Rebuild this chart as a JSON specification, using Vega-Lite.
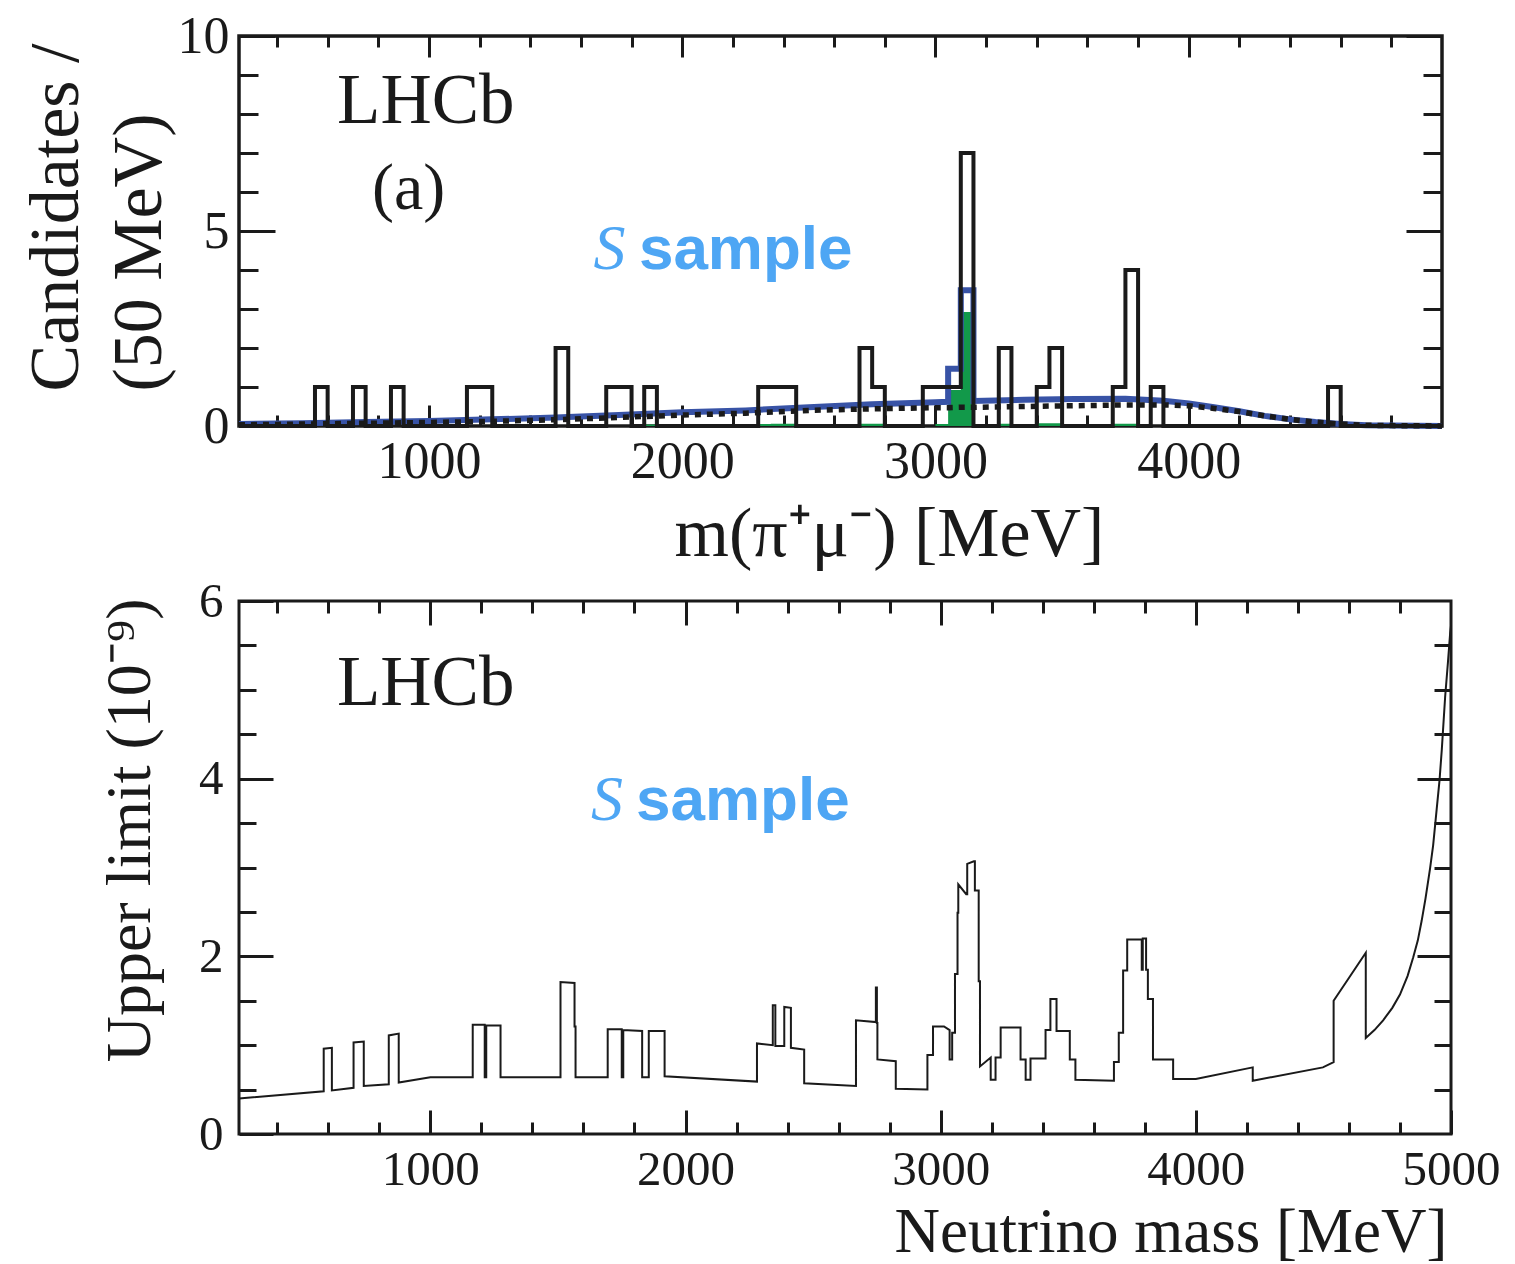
{
  "$schema": "https://vega.github.io/schema/vega-lite/v6.json",
  "background": "white",
  "padding": {"left": 19, "top": 8, "right": 5, "bottom": 2},
  "spacing": 175,
  "bounds": "flush",
  "config": {
    "font": "Liberation Serif",
    "axis": {"grid": false, "domain": false, "labelFlush": false, "labelOverlap": false, "format": "d", "tickColor": "#1a1a1a", "labelColor": "#1a1a1a", "titleColor": "#1a1a1a", "labelFont": "Liberation Serif", "titleFont": "Liberation Serif", "titleFontWeight": "normal", "tickWidth": 3},
    "view": {"stroke": "#1a1a1a", "strokeWidth": 3}
  },
  "datasets": {
    "bins": [
      {"m":250,"n":0,"g":0},{"m":300,"n":0,"g":0},{"m":350,"n":0,"g":0},{"m":400,"n":0,"g":0},{"m":450,"n":0,"g":0},{"m":500,"n":0,"g":0},
      {"m":550,"n":1,"g":0},{"m":600,"n":0,"g":0},{"m":650,"n":0,"g":0},{"m":700,"n":1,"g":0},{"m":750,"n":0,"g":0},{"m":800,"n":0,"g":0},
      {"m":850,"n":1,"g":0},{"m":900,"n":0,"g":0},{"m":950,"n":0,"g":0},{"m":1000,"n":0,"g":0},{"m":1050,"n":0,"g":0},{"m":1100,"n":0,"g":0},
      {"m":1150,"n":1,"g":0},{"m":1200,"n":1,"g":0},{"m":1250,"n":0,"g":0},{"m":1300,"n":0,"g":0},{"m":1350,"n":0,"g":0},{"m":1400,"n":0,"g":0},
      {"m":1450,"n":0,"g":0},{"m":1500,"n":2,"g":0},{"m":1550,"n":0,"g":0},{"m":1600,"n":0,"g":0},{"m":1650,"n":0,"g":0},{"m":1700,"n":1,"g":0},
      {"m":1750,"n":1,"g":0},{"m":1800,"n":0,"g":0},{"m":1850,"n":1,"g":0.04},{"m":1900,"n":0,"g":0},{"m":1950,"n":0,"g":0},{"m":2000,"n":0,"g":0},
      {"m":2050,"n":0,"g":0},{"m":2100,"n":0,"g":0},{"m":2150,"n":0,"g":0},{"m":2200,"n":0,"g":0},{"m":2250,"n":0,"g":0},{"m":2300,"n":1,"g":0.05},
      {"m":2350,"n":1,"g":0.06},{"m":2400,"n":1,"g":0.06},{"m":2450,"n":0,"g":0},{"m":2500,"n":0,"g":0},{"m":2550,"n":0,"g":0},{"m":2600,"n":0,"g":0},
      {"m":2650,"n":0,"g":0},{"m":2700,"n":2,"g":0.06},{"m":2750,"n":1,"g":0.06},{"m":2800,"n":0,"g":0},{"m":2850,"n":0,"g":0},{"m":2900,"n":0,"g":0},
      {"m":2950,"n":1,"g":0},{"m":3000,"n":1,"g":0.05},{"m":3050,"n":1,"g":0.92},{"m":3100,"n":7,"g":2.92},{"m":3150,"n":0,"g":0},{"m":3200,"n":0,"g":0},
      {"m":3250,"n":2,"g":0.06},{"m":3300,"n":0,"g":0},{"m":3350,"n":0,"g":0},{"m":3400,"n":1,"g":0.07},{"m":3450,"n":2,"g":0.07},{"m":3500,"n":0,"g":0},
      {"m":3550,"n":0,"g":0},{"m":3600,"n":0,"g":0},{"m":3650,"n":0,"g":0.05},{"m":3700,"n":1,"g":0.06},{"m":3750,"n":4,"g":0.06},{"m":3800,"n":0,"g":0},
      {"m":3850,"n":1,"g":0},{"m":3900,"n":0,"g":0},{"m":3950,"n":0,"g":0},{"m":4000,"n":0,"g":0},{"m":4050,"n":0,"g":0},{"m":4100,"n":0,"g":0},
      {"m":4150,"n":0,"g":0},{"m":4200,"n":0,"g":0},{"m":4250,"n":0,"g":0},{"m":4300,"n":0,"g":0},{"m":4350,"n":0,"g":0},{"m":4400,"n":0,"g":0},
      {"m":4450,"n":0,"g":0},{"m":4500,"n":0,"g":0},{"m":4550,"n":1,"g":0},{"m":4600,"n":0,"g":0},{"m":4650,"n":0,"g":0},{"m":4700,"n":0,"g":0},
      {"m":4750,"n":0,"g":0},{"m":4800,"n":0,"g":0},{"m":4850,"n":0,"g":0},{"m":4900,"n":0,"g":0},{"m":4950,"n":0,"g":0},{"m":5000,"n":0,"g":0}
    ],
    "model": [
      {"i":1,"m":250,"v":0.05,"b":0.03},{"i":2,"m":500,"v":0.07,"b":0.05},{"i":3,"m":750,"v":0.10,"b":0.07},{"i":4,"m":1000,"v":0.13,"b":0.09},
      {"i":5,"m":1250,"v":0.17,"b":0.12},{"i":6,"m":1500,"v":0.22,"b":0.16},{"i":7,"m":1750,"v":0.28,"b":0.22},{"i":8,"m":2000,"v":0.35,"b":0.28},
      {"i":9,"m":2250,"v":0.40,"b":0.33},{"i":10,"m":2500,"v":0.48,"b":0.40},{"i":11,"m":2750,"v":0.56,"b":0.44},{"i":12,"m":3000,"v":0.61,"b":0.47},
      {"i":13,"m":3050,"v":0.62,"b":0.47},{"i":14,"m":3050,"v":1.47,"b":0.47},{"i":15,"m":3100,"v":1.47,"b":0.48},{"i":16,"m":3100,"v":3.48,"b":0.48},
      {"i":17,"m":3150,"v":3.48,"b":0.48},{"i":18,"m":3150,"v":0.64,"b":0.48},{"i":19,"m":3350,"v":0.67,"b":0.50},{"i":20,"m":3550,"v":0.69,"b":0.52},
      {"i":21,"m":3750,"v":0.70,"b":0.54},{"i":22,"m":3900,"v":0.65,"b":0.54},{"i":23,"m":4000,"v":0.58,"b":0.52},{"i":24,"m":4100,"v":0.48,"b":0.45},
      {"i":25,"m":4200,"v":0.38,"b":0.37},{"i":26,"m":4300,"v":0.26,"b":0.26},{"i":27,"m":4400,"v":0.17,"b":0.17},{"i":28,"m":4500,"v":0.10,"b":0.10},
      {"i":29,"m":4600,"v":0.05,"b":0.05},{"i":30,"m":4700,"v":0.02,"b":0.02},{"i":31,"m":4800,"v":0.01,"b":0.01},{"i":32,"m":5000,"v":0.0,"b":0.0}
    ],
    "ul": [
      {"i":1,"m":250,"u":0.40},{"i":2,"m":582,"u":0.48},{"i":3,"m":582,"u":0.96},{"i":4,"m":614,"u":0.97},{"i":5,"m":614,"u":0.49},
      {"i":6,"m":699,"u":0.52},{"i":7,"m":699,"u":1.03},{"i":8,"m":739,"u":1.04},{"i":9,"m":739,"u":0.54},{"i":10,"m":837,"u":0.56},
      {"i":11,"m":837,"u":1.11},{"i":12,"m":876,"u":1.13},{"i":13,"m":876,"u":0.58},{"i":14,"m":1000,"u":0.64},{"i":15,"m":1166,"u":0.64},
      {"i":16,"m":1166,"u":1.23},{"i":17,"m":1213,"u":1.23},{"i":18,"m":1213,"u":0.64},{"i":19,"m":1219,"u":0.64},{"i":20,"m":1219,"u":1.22},
      {"i":21,"m":1275,"u":1.22},{"i":22,"m":1275,"u":0.64},{"i":23,"m":1510,"u":0.64},{"i":24,"m":1510,"u":1.71},{"i":25,"m":1565,"u":1.70},
      {"i":26,"m":1565,"u":1.21},{"i":27,"m":1569,"u":1.21},{"i":28,"m":1569,"u":0.64},{"i":29,"m":1695,"u":0.64},{"i":30,"m":1695,"u":1.18},
      {"i":31,"m":1750,"u":1.18},{"i":32,"m":1750,"u":0.64},{"i":33,"m":1756,"u":0.64},{"i":34,"m":1756,"u":1.17},{"i":35,"m":1830,"u":1.16},
      {"i":36,"m":1830,"u":0.64},{"i":37,"m":1856,"u":0.64},{"i":38,"m":1856,"u":1.16},{"i":39,"m":1918,"u":1.16},{"i":40,"m":1918,"u":0.65},
      {"i":41,"m":2280,"u":0.59},{"i":42,"m":2280,"u":1.02},{"i":43,"m":2342,"u":1.00},{"i":44,"m":2342,"u":1.45},{"i":45,"m":2352,"u":1.45},
      {"i":46,"m":2352,"u":0.99},{"i":47,"m":2387,"u":0.99},{"i":48,"m":2387,"u":1.43},{"i":49,"m":2413,"u":1.42},{"i":50,"m":2413,"u":0.97},
      {"i":51,"m":2465,"u":0.95},{"i":52,"m":2465,"u":0.57},{"i":53,"m":2668,"u":0.54},{"i":54,"m":2668,"u":1.28},{"i":55,"m":2746,"u":1.26},
      {"i":56,"m":2746,"u":1.65},{"i":57,"m":2750,"u":1.65},{"i":58,"m":2750,"u":1.25},{"i":59,"m":2752,"u":1.25},{"i":60,"m":2752,"u":0.84},
      {"i":61,"m":2824,"u":0.82},{"i":62,"m":2824,"u":0.51},{"i":63,"m":2948,"u":0.50},{"i":64,"m":2948,"u":0.89},{"i":65,"m":2970,"u":0.89},
      {"i":66,"m":2970,"u":1.21},{"i":67,"m":3013,"u":1.21},{"i":68,"m":3035,"u":1.17},{"i":69,"m":3035,"u":0.84},{"i":70,"m":3045,"u":0.84},
      {"i":71,"m":3045,"u":1.14},{"i":72,"m":3056,"u":1.14},{"i":73,"m":3056,"u":1.80},{"i":74,"m":3066,"u":1.80},{"i":75,"m":3066,"u":2.49},
      {"i":76,"m":3069,"u":2.49},{"i":77,"m":3069,"u":2.81},{"i":78,"m":3100,"u":2.70},{"i":79,"m":3104,"u":2.70},{"i":80,"m":3104,"u":3.04},
      {"i":81,"m":3130,"u":3.07},{"i":82,"m":3134,"u":3.07},{"i":83,"m":3134,"u":2.74},{"i":84,"m":3149,"u":2.74},{"i":85,"m":3149,"u":1.72},
      {"i":86,"m":3154,"u":1.72},{"i":87,"m":3154,"u":0.76},{"i":88,"m":3196,"u":0.86},{"i":89,"m":3196,"u":0.61},{"i":90,"m":3215,"u":0.61},
      {"i":91,"m":3215,"u":0.86},{"i":92,"m":3235,"u":0.86},{"i":93,"m":3235,"u":1.20},{"i":94,"m":3313,"u":1.20},{"i":95,"m":3313,"u":0.84},
      {"i":96,"m":3333,"u":0.84},{"i":97,"m":3333,"u":0.61},{"i":98,"m":3352,"u":0.61},{"i":99,"m":3352,"u":0.85},{"i":100,"m":3411,"u":0.85},
      {"i":101,"m":3411,"u":1.17},{"i":102,"m":3430,"u":1.17},{"i":103,"m":3430,"u":1.52},{"i":104,"m":3454,"u":1.52},{"i":105,"m":3454,"u":1.16},
      {"i":106,"m":3506,"u":1.16},{"i":107,"m":3506,"u":0.84},{"i":108,"m":3528,"u":0.84},{"i":109,"m":3528,"u":0.61},{"i":110,"m":3679,"u":0.60},
      {"i":111,"m":3679,"u":0.81},{"i":112,"m":3698,"u":0.81},{"i":113,"m":3698,"u":1.14},{"i":114,"m":3715,"u":1.14},{"i":115,"m":3715,"u":1.84},
      {"i":116,"m":3731,"u":1.84},{"i":117,"m":3731,"u":2.19},{"i":118,"m":3788,"u":2.19},{"i":119,"m":3788,"u":1.85},{"i":120,"m":3792,"u":1.85},
      {"i":121,"m":3792,"u":2.20},{"i":122,"m":3805,"u":2.20},{"i":123,"m":3805,"u":1.85},{"i":124,"m":3812,"u":1.85},{"i":125,"m":3812,"u":1.52},
      {"i":126,"m":3832,"u":1.52},{"i":127,"m":3832,"u":0.84},{"i":128,"m":3911,"u":0.84},{"i":129,"m":3911,"u":0.62},{"i":130,"m":4000,"u":0.62},
      {"i":131,"m":4223,"u":0.75},{"i":132,"m":4223,"u":0.60},{"i":133,"m":4498,"u":0.75},{"i":134,"m":4540,"u":0.81},{"i":135,"m":4540,"u":1.50},
      {"i":136,"m":4603,"u":1.77},{"i":137,"m":4666,"u":2.04},{"i":138,"m":4666,"u":1.08},{"i":139,"m":4700,"u":1.17},{"i":140,"m":4734,"u":1.28},
      {"i":141,"m":4770,"u":1.42},{"i":142,"m":4800,"u":1.57},{"i":143,"m":4830,"u":1.78},{"i":144,"m":4852,"u":1.99},{"i":145,"m":4870,"u":2.18},
      {"i":146,"m":4885,"u":2.40},{"i":147,"m":4900,"u":2.65},{"i":148,"m":4918,"u":2.99},{"i":149,"m":4930,"u":3.25},{"i":150,"m":4944,"u":3.66},
      {"i":151,"m":4955,"u":3.98},{"i":152,"m":4964,"u":4.33},{"i":153,"m":4977,"u":4.92},{"i":154,"m":4988,"u":5.31},{"i":155,"m":4997,"u":5.65},
      {"i":156,"m":5000,"u":5.72}
    ]
  },
  "vconcat": [
    {
      "width": 1203,
      "height": 390,
      "view": {"stroke": "#1a1a1a", "strokeWidth": 3.5},
      "resolve": {"axis": {"x": "independent", "y": "independent"}},
      "layer": [
        {
          "data": {"name": "bins"},
          "mark": {"type": "area", "interpolate": "step-after", "color": "#12994a"},
          "encoding": {
            "x": {"field": "m", "type": "quantitative", "scale": {"domain": [250, 5000], "nice": false, "zero": false},
              "axis": {"orient": "bottom", "values": [1000, 2000, 3000, 4000], "tickSize": -21, "labelFontSize": 52, "labelBaseline": "alphabetic", "labelPadding": 72,
                "title": "m(π⁺μ⁻) [MeV]", "titleFontSize": 70, "titleAngle": 0, "titleAlign": "left", "titleBaseline": "alphabetic", "titleX": 435, "titleY": 129}},
            "y": {"field": "g", "type": "quantitative", "scale": {"domain": [0, 10], "nice": false, "zero": false},
              "axis": {"orient": "left", "values": [0, 5, 10], "tickSize": -36, "labelFontSize": 52, "labelPadding": 46, "labelBaseline": "middle",
                "title": ["Candidates /", "(50 MeV)"], "titleFontSize": 70, "titleAngle": 270, "titleAlign": "left", "titleBaseline": "alphabetic", "titleX": -162, "titleY": 355, "titleLineHeight": 83}}
          }
        },
        {
          "data": {"name": "model"},
          "mark": {"type": "line", "color": "#3853a6", "strokeWidth": 6},
          "encoding": {
            "x": {"field": "m", "type": "quantitative",
              "axis": {"orient": "bottom", "values": [400,600,800,1000,1200,1400,1600,1800,2000,2200,2400,2600,2800,3000,3200,3400,3600,3800,4000,4200,4400,4600,4800], "tickSize": -11, "labels": false, "title": null}},
            "y": {"field": "v", "type": "quantitative",
              "axis": {"orient": "left", "values": [1,2,3,4,6,7,8,9], "tickSize": -19, "labels": false, "title": null}},
            "order": {"field": "i", "type": "quantitative"}
          }
        },
        {
          "data": {"name": "model"},
          "mark": {"type": "line", "color": "#1a1a1a", "strokeWidth": 5.5, "strokeDash": [6, 6]},
          "encoding": {
            "x": {"field": "m", "type": "quantitative",
              "axis": {"orient": "top", "values": [1000, 2000, 3000, 4000], "tickSize": -21, "labels": false, "title": null}},
            "y": {"field": "b", "type": "quantitative",
              "axis": {"orient": "right", "values": [0, 5, 10], "tickSize": -36, "labels": false, "title": null}},
            "order": {"field": "i", "type": "quantitative"}
          }
        },
        {
          "data": {"name": "bins"},
          "mark": {"type": "line", "interpolate": "step-after", "color": "#1a1a1a", "strokeWidth": 4},
          "encoding": {
            "x": {"field": "m", "type": "quantitative",
              "axis": {"orient": "top", "values": [400,600,800,1000,1200,1400,1600,1800,2000,2200,2400,2600,2800,3000,3200,3400,3600,3800,4000,4200,4400,4600,4800], "tickSize": -11, "labels": false, "title": null}},
            "y": {"field": "n", "type": "quantitative",
              "axis": {"orient": "right", "values": [1,2,3,4,6,7,8,9], "tickSize": -19, "labels": false, "title": null}}
          }
        },
        {
          "data": {"values": [{"t": "LHCb"}]},
          "mark": {"type": "text", "font": "Liberation Serif", "fontSize": 71, "align": "left", "baseline": "alphabetic", "color": "#1a1a1a"},
          "encoding": {
            "x": {"datum": 637, "type": "quantitative", "axis": null},
            "y": {"datum": 7.77, "type": "quantitative", "axis": null},
            "text": {"field": "t"}
          }
        },
        {
          "data": {"values": [{"t": "(a)"}]},
          "mark": {"type": "text", "font": "Liberation Serif", "fontSize": 66, "align": "left", "baseline": "alphabetic", "color": "#1a1a1a"},
          "encoding": {
            "x": {"datum": 775, "type": "quantitative", "axis": null},
            "y": {"datum": 5.56, "type": "quantitative", "axis": null},
            "text": {"field": "t"}
          }
        },
        {
          "data": {"values": [{"t": "S"}]},
          "mark": {"type": "text", "font": "Liberation Serif", "fontStyle": "italic", "fontSize": 64, "align": "left", "baseline": "alphabetic", "color": "#4ea6f4"},
          "encoding": {
            "x": {"datum": 1650, "type": "quantitative", "axis": null},
            "y": {"datum": 4.03, "type": "quantitative", "axis": null},
            "text": {"field": "t"}
          }
        },
        {
          "data": {"values": [{"t": "sample"}]},
          "mark": {"type": "text", "font": "Liberation Sans", "fontWeight": "bold", "fontSize": 62, "align": "left", "baseline": "alphabetic", "color": "#4ea6f4"},
          "encoding": {
            "x": {"datum": 1829, "type": "quantitative", "axis": null},
            "y": {"datum": 4.03, "type": "quantitative", "axis": null},
            "text": {"field": "t"}
          }
        }
      ]
    },
    {
      "width": 1212,
      "height": 533,
      "view": {"stroke": "#1a1a1a", "strokeWidth": 3},
      "resolve": {"axis": {"x": "independent", "y": "independent"}},
      "layer": [
        {
          "data": {"name": "ul"},
          "mark": {"type": "line", "color": "#1a1a1a", "strokeWidth": 2},
          "encoding": {
            "x": {"field": "m", "type": "quantitative", "scale": {"domain": [250, 5000], "nice": false, "zero": false},
              "axis": {"orient": "bottom", "values": [1000, 2000, 3000, 4000, 5000], "tickSize": -24, "labelFontSize": 49, "labelBaseline": "alphabetic", "labelPadding": 74,
                "title": "Neutrino mass [MeV]", "titleFontSize": 63, "titleAngle": 0, "titleAlign": "right", "titleBaseline": "alphabetic", "titleX": 1208, "titleY": 117}},
            "y": {"field": "u", "type": "quantitative", "scale": {"domain": [0, 6], "nice": false, "zero": false},
              "axis": {"orient": "left", "values": [0, 2, 4, 6], "tickSize": -34, "labelFontSize": 49, "labelPadding": 50, "labelBaseline": "middle",
                "title": "Upper limit (10⁻⁹)", "titleFontSize": 64, "titleAngle": 270, "titleAlign": "right", "titleBaseline": "alphabetic", "titleX": -90, "titleY": -3}},
            "order": {"field": "i", "type": "quantitative"}
          }
        },
        {
          "data": {"values": [{"t": "LHCb"}]},
          "mark": {"type": "text", "font": "Liberation Serif", "fontSize": 71, "align": "left", "baseline": "alphabetic", "color": "#1a1a1a"},
          "encoding": {
            "x": {"datum": 634, "type": "quantitative",
              "axis": {"orient": "bottom", "values": [400,600,800,1000,1200,1400,1600,1800,2000,2200,2400,2600,2800,3000,3200,3400,3600,3800,4000,4200,4400,4600,4800], "tickSize": -12, "labels": false, "title": null}},
            "y": {"datum": 4.83, "type": "quantitative",
              "axis": {"orient": "left", "values": [0.5,1,1.5,2.5,3,3.5,4.5,5,5.5], "tickSize": -17, "labels": false, "title": null}},
            "text": {"field": "t"}
          }
        },
        {
          "data": {"values": [{"t": "S"}]},
          "mark": {"type": "text", "font": "Liberation Serif", "fontStyle": "italic", "fontSize": 64, "align": "left", "baseline": "alphabetic", "color": "#4ea6f4"},
          "encoding": {
            "x": {"datum": 1630, "type": "quantitative",
              "axis": {"orient": "top", "values": [1000, 2000, 3000, 4000], "tickSize": -24, "labels": false, "title": null}},
            "y": {"datum": 3.53, "type": "quantitative",
              "axis": {"orient": "right", "values": [2, 4], "tickSize": -34, "labels": false, "title": null}},
            "text": {"field": "t"}
          }
        },
        {
          "data": {"values": [{"t": "sample"}]},
          "mark": {"type": "text", "font": "Liberation Sans", "fontWeight": "bold", "fontSize": 62, "align": "left", "baseline": "alphabetic", "color": "#4ea6f4"},
          "encoding": {
            "x": {"datum": 1806, "type": "quantitative",
              "axis": {"orient": "top", "values": [400,600,800,1000,1200,1400,1600,1800,2000,2200,2400,2600,2800,3000,3200,3400,3600,3800,4000,4200,4400,4600,4800], "tickSize": -12, "labels": false, "title": null}},
            "y": {"datum": 3.53, "type": "quantitative",
              "axis": {"orient": "right", "values": [0.5,1,1.5,2.5,3,3.5,4.5,5,5.5], "tickSize": -17, "labels": false, "title": null}},
            "text": {"field": "t"}
          }
        }
      ]
    }
  ]
}
